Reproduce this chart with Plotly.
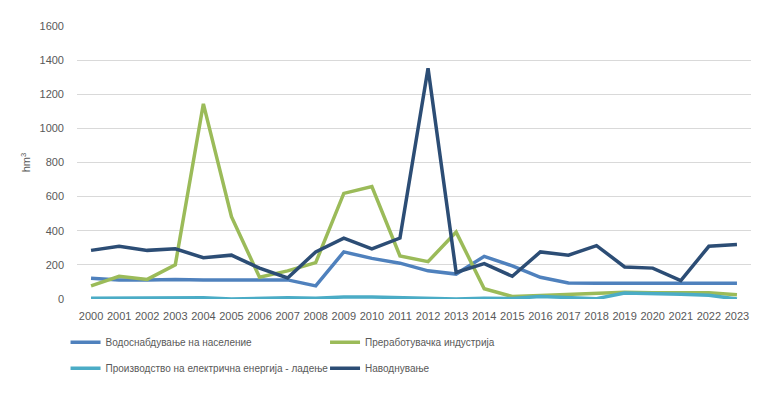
import plotly.graph_objects as go

years = [str(y) for y in range(2000, 2024)]

vodosnabduvanje = [122, 112, 112, 115, 112, 112, 112, 112, 77, 276, 238, 210,
                   165, 146, 250, 194, 127, 94, 93, 93, 93, 93, 93, 93]
preraboruvacka = [77, 133, 115, 200, 1144, 482, 127, 165, 213, 619, 659, 252,
                  219, 392, 60, 15, 21, 27, 35, 39, 37, 37, 37, 25]
proizvodstvo = [5, 5, 5, 5, 8, 0, 3, 8, 5, 12, 12, 8,
                0, 0, 5, 3, 15, 8, 2, 35, 33, 28, 22, 0]
navodnuvanje = [285, 309, 285, 294, 242, 257, 181, 123, 276, 357, 294, 357,
                1352, 156, 207, 133, 276, 257, 313, 188, 181, 108, 309, 319]

names = ["Водоснабдување на население", "Преработувачка индустрија",
         "Производство на електрична енергија - ладење", "Наводнување"]
series = [vodosnabduvanje, preraboruvacka, proizvodstvo, navodnuvanje]
colors = ["#4F81BD", "#9BBB59", "#4BACC6", "#2C4D75"]
legend_ids = ["legend", "legend2", "legend", "legend2"]

fig = go.Figure()
for i, (name, vals, col, lg) in enumerate(zip(names, series, colors, legend_ids)):
    fig.add_trace(go.Scatter(x=years, y=vals, name=name, mode="lines",
                             line=dict(color=col, width=3.5),
                             legend=lg, legendgroup=f"g{i}"))

font = dict(family="Liberation Sans, Arial, sans-serif", size=11, color="#595959")
leg_font = dict(family="Liberation Sans, Arial, sans-serif", size=10, color="#595959")
leg_common = dict(orientation="v", y=-0.105, yanchor="top", xanchor="left",
                  font=leg_font, tracegroupgap=7, bgcolor="rgba(0,0,0,0)")
fig.update_layout(
    width=775, height=389,
    margin=dict(l=69, r=32, t=13, b=98),
    paper_bgcolor="white", plot_bgcolor="white",
    font=font,
    xaxis=dict(type="category", showgrid=False, showline=False, zeroline=False,
               ticks="", tickfont=dict(size=11, color="#595959"), tickangle=0,
               range=[-0.5, 23.5], ticklabelstandoff=9),
    yaxis=dict(range=[0, 1600], dtick=200, showgrid=True, gridcolor="#D9D9D9",
               gridwidth=1, zeroline=False, showline=False, ticks="",
               tickfont=dict(size=11, color="#595959"), ticklabelstandoff=12,
               title=dict(text="hm<sup>3</sup>", font=dict(size=11, color="#595959"),
                          standoff=6)),
    legend=dict(x=-0.017, **leg_common),
    legend2=dict(x=0.368, **leg_common),
    showlegend=True,
)

fig.write_html("out.html")
